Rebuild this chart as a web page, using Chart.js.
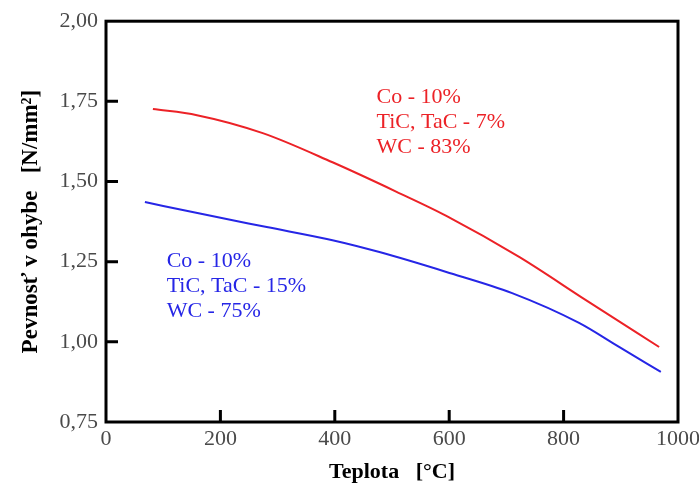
<!DOCTYPE html>
<html lang="sk">
<head>
  <meta charset="UTF-8">
  <title>Pevnosť v ohybe</title>
  <script src="https://cdn.jsdelivr.net/npm/chart.js"></script>
  <style>
    html, body { margin: 0; padding: 0; background: #fff; }
    #wrap { width: 699px; height: 488px; }
  </style>
</head>
<body>
  <div id="wrap"><canvas id="bendChart"></canvas></div>

  <script>
    // Axis ticks
    const tempTicks = [0, 200, 400, 600, 800, 1000];
    const strengthTicks = [0.75, 1.00, 1.25, 1.50, 1.75, 2.00];

    // Co 10 %, TiC+TaC 7 %, WC 83 %
    const redTemp = [82, 159, 274, 396, 508, 595, 723, 839, 967];
    const redStrength = [1.726, 1.707, 1.651, 1.560, 1.468, 1.393, 1.264, 1.130, 0.984];

    // Co 10 %, TiC+TaC 15 %, WC 75 %
    const blueTemp = [68, 164, 281, 396, 478, 595, 710, 827, 897, 970];
    const blueStrength = [1.436, 1.400, 1.358, 1.317, 1.280, 1.218, 1.152, 1.059, 0.984, 0.906];

    const redNote = ['Co - 10%', 'TiC, TaC - 7%', 'WC - 83%'];
    const blueNote = ['Co - 10%', 'TiC, TaC - 15%', 'WC - 75%'];

    const RED = '#ec2227';
    const BLUE = '#2626e6';
    const SERIF = '"Liberation Serif", "Times New Roman", serif';

    const toPoints = (xs, ys) => xs.map((x, i) => ({ x, y: ys[i] }));

    // box frame, inward tick marks and the composition notes
    const framePlugin = {
      id: 'frame',
      afterDraw(chart) {
        const { ctx, chartArea: a, scales } = chart;
        ctx.save();
        ctx.strokeStyle = '#000';
        ctx.lineWidth = 3;
        ctx.lineCap = 'butt';
        ctx.beginPath();
        tempTicks.slice(1, -1).forEach(t => {
          const x = scales.x.getPixelForValue(t);
          ctx.moveTo(x, a.bottom);
          ctx.lineTo(x, a.bottom - 12);
        });
        strengthTicks.slice(1, -1).forEach(t => {
          const y = scales.y.getPixelForValue(t);
          ctx.moveTo(a.left, y);
          ctx.lineTo(a.left + 12, y);
        });
        ctx.stroke();
        ctx.strokeRect(a.left, a.top, a.right - a.left, a.bottom - a.top);

        ctx.font = '22px ' + SERIF;
        ctx.textBaseline = 'middle';
        ctx.textAlign = 'left';
        const note = (lines, tx, ty, color) => {
          const x = scales.x.getPixelForValue(tx);
          const y = scales.y.getPixelForValue(ty);
          ctx.fillStyle = color;
          lines.forEach((s, i) => ctx.fillText(s, x, y + i * 25));
        };
        note(redNote, 473, 1.763, RED);
        note(blueNote, 106, 1.252, BLUE);
        ctx.restore();
      }
    };

    new Chart(document.getElementById('bendChart'), {
      type: 'scatter',
      data: {
        datasets: [
          {
            data: toPoints(redTemp, redStrength),
            showLine: true,
            borderColor: RED,
            borderWidth: 2,
            pointRadius: 0,
            cubicInterpolationMode: 'monotone'
          },
          {
            data: toPoints(blueTemp, blueStrength),
            showLine: true,
            borderColor: BLUE,
            borderWidth: 2,
            pointRadius: 0,
            cubicInterpolationMode: 'monotone'
          }
        ]
      },
      options: {
        responsive: true,
        maintainAspectRatio: false,
        animation: false,
        layout: { padding: { top: 21, right: 21, left: 0, bottom: 0 } },
        plugins: {
          legend: { display: false },
          tooltip: { enabled: false }
        },
        scales: {
          x: {
            type: 'linear',
            min: 0,
            max: 1000,
            afterBuildTicks: s => { s.ticks = tempTicks.map(v => ({ value: v })); },
            // let the "1000" label hang into the right margin
            afterFit: s => { s.height = 66; s.paddingRight = 0; s.paddingLeft = 0; },
            grid: { display: false, drawTicks: false },
            border: { display: false },
            ticks: {
              padding: 4,
              color: '#4a4a4a',
              font: { family: SERIF, size: 22 },
              callback: v => String(v)
            },
            title: {
              display: true,
              text: 'Teplota   [°C]',
              color: '#000',
              font: { family: SERIF, size: 22, weight: 'bold' },
              padding: { top: 0, bottom: 2 }
            }
          },
          y: {
            min: 0.75,
            max: 2.0,
            afterBuildTicks: s => { s.ticks = strengthTicks.map(v => ({ value: v })); },
            afterFit: s => { s.width = 106; },
            grid: { display: false, drawTicks: false },
            border: { display: false },
            ticks: {
              padding: 8,
              color: '#4a4a4a',
              font: { family: SERIF, size: 22 },
              callback: v => v.toFixed(2).replace('.', ',')
            },
            title: {
              display: true,
              text: 'Pevnosť v ohybe   [N/mm²]',
              color: '#000',
              font: { family: SERIF, size: 23, weight: 'bold' },
              padding: { top: 17, bottom: 0 }
            }
          }
        }
      },
      plugins: [framePlugin]
    });
  </script>
</body>
</html>
